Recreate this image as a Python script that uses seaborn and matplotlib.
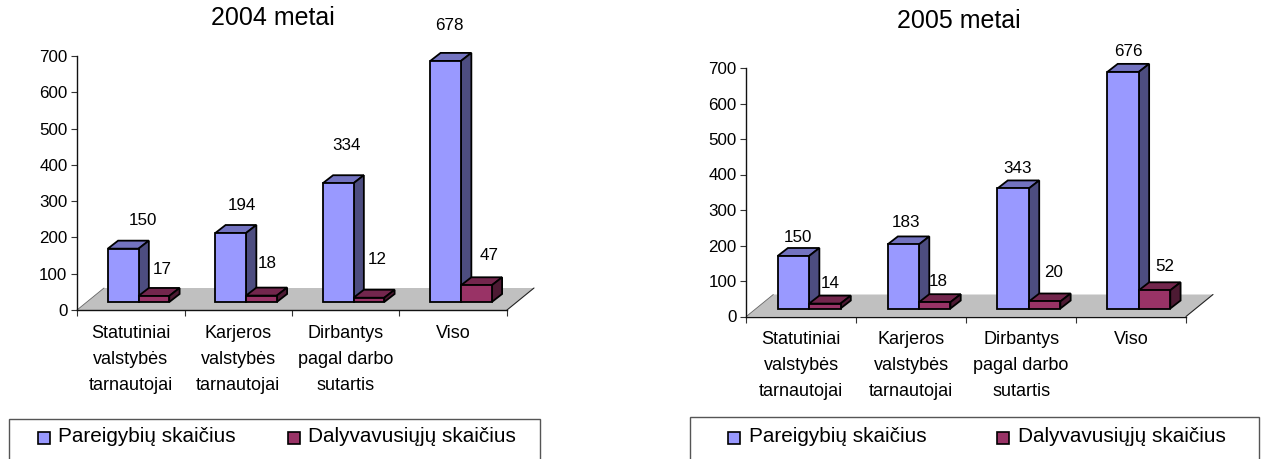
import pandas as pd
import matplotlib
matplotlib.use('Agg')
import matplotlib.pyplot as plt
from matplotlib.patches import Polygon, Rectangle
import seaborn as sn

categories = ['Statutiniai\nvalstybės\ntarnautojai', 'Karjeros\nvalstybės\ntarnautojai',
              'Dirbantys\npagal darbo\nsutartis', 'Viso']
series_names = ['Pareigybių skaičius', 'Dalyvavusiųjų skaičius']
pareigybes_2004 = [150, 194, 334, 678]
dalyvavo_2004 = [17, 18, 12, 47]
pareigybes_2005 = [150, 183, 343, 676]
dalyvavo_2005 = [14, 18, 20, 52]
y_ticks = [0, 100, 200, 300, 400, 500, 600, 700]

W, H = 1266, 459

FRONT = ['#9999FF', '#993366']
TOP = ['#7373C0', '#73264D']
SIDE = ['#4D4D80', '#4D1A33']
PT = 0.72  # px -> pt at dpi 100
EDGE = 1.3

sn.set_style('white')
plt.rcParams['font.family'] = ['Liberation Sans', 'DejaVu Sans']

fig = plt.figure(figsize=(W / 100, H / 100), dpi=100)


def draw_chart(title, values, box, title_xy, labels_xy, legend_box, legend_xy, bar_scale):
    x0, x1, y0, y1 = box
    ax = fig.add_axes([x0 / W, 1 - y0 / H, (x1 - x0) / W, (y0 - y1) / H])

    df = pd.DataFrame({
        'kategorija': categories * 2,
        'serija': [series_names[0]] * 4 + [series_names[1]] * 4,
        'reiksme': values[0] + values[1],
    })
    sn.barplot(data=df, x='kategorija', y='reiksme', hue='serija', hue_order=series_names,
               palette=FRONT, saturation=1, width=0.572, gap=0, edgecolor='black',
               linewidth=EDGE, legend=False, ax=ax)
    ax.set_ylim(0, 700)
    ax.set_xlim(-0.5, 3.5)

    # pixels -> data units for the fake 3D
    px_x = 4 / (x1 - x0)
    px_y = 700 / (y0 - y1)
    base_x, base_y = 7.8 * px_x, 8 * px_y
    depth_x, depth_y = 10.3 * px_x, 8 * px_y

    bars = list(ax.patches)
    for i, bar in enumerate(bars):
        s = 0 if i < 4 else 1
        bar.set_x(bar.get_x() + base_x)
        bar.set_y(base_y)
        bar.set_height(bar.get_height() * bar_scale)
        bar.set_zorder(3 + 2 * s)
        left, right = bar.get_x(), bar.get_x() + bar.get_width()
        top = bar.get_y() + bar.get_height()
        ax.add_patch(Polygon([(left, top), (right, top), (right + depth_x, top + depth_y),
                              (left + depth_x, top + depth_y)], closed=True, facecolor=TOP[s],
                             edgecolor='black', linewidth=EDGE, zorder=2 + 2 * s, clip_on=False))
        ax.add_patch(Polygon([(right, base_y), (right, top), (right + depth_x, top + depth_y),
                              (right + depth_x, base_y + depth_y)], closed=True, facecolor=SIDE[s],
                             edgecolor='black', linewidth=EDGE, zorder=2 + 2 * s, clip_on=False))

    # floor
    fx, fy = 27 * px_x, 22 * px_y
    ax.add_patch(Polygon([(-0.5, 0), (3.5, 0), (3.5 + fx, fy), (-0.5 + fx, fy)], closed=True,
                         facecolor='#C0C0C0', edgecolor='none', zorder=1, clip_on=False))
    ax.plot([3.5, 3.5 + fx], [0, fy], color='#222222', lw=0.8, zorder=1.5, clip_on=False)
    ax.plot([-0.5, -0.5 + fx], [0, fy], color='#666666', lw=0.6, zorder=1.5, clip_on=False)

    sn.despine(ax=ax)
    for side in ['left', 'bottom']:
        ax.spines[side].set_linewidth(1.0)
        ax.spines[side].set_color('#111111')
        ax.spines[side].set_zorder(2)

    ax.set_xlabel('')
    ax.set_ylabel('')
    ax.set_yticks(y_ticks)
    ax.tick_params(axis='y', left=True, length=4.4, width=0.8, color='#333333', pad=2.5,
                   labelsize=17 * PT, labelcolor='black')
    ax.set_xticks([-0.5, 0.5, 1.5, 2.5, 3.5], labels=[''] * 5)
    ax.tick_params(axis='x', which='major', bottom=True, length=4.6, width=0.8, color='#333333')
    ax.set_xticks([0, 1, 2, 3], labels=categories, minor=True)
    ax.tick_params(axis='x', which='minor', bottom=False, length=0, pad=10.5, labelsize=18 * PT,
                   labelcolor='black')
    for lab in ax.get_xticklabels(minor=True):
        lab.set_linespacing(1.7)

    fig.text(title_xy[0] / W, 1 - title_xy[1] / H, title, fontsize=25 * PT,
             ha='center', va='center', color='black')

    flat = values[0] + values[1]
    for v, (lx, ly) in zip(flat, labels_xy):
        fig.text(lx / W, 1 - ly / H, str(v), fontsize=17 * PT, ha='center', va='center', color='black')

    # legend box runs off the bottom of the picture, like in the source
    lx0, lx1, ly0 = legend_box
    fig.add_artist(Rectangle((lx0 / W, -0.05), (lx1 - lx0) / W, 1 - ly0 / H + 0.05, fill=False,
                             edgecolor='#555555', linewidth=1.0, transform=fig.transFigure))
    for s, (mx, tx) in enumerate(legend_xy):
        fig.add_artist(Rectangle((mx / W, 1 - 443.5 / H), 12 / W, 12 / H, facecolor=FRONT[s],
                                 edgecolor='black', linewidth=1.2, transform=fig.transFigure))
        fig.text(tx / W, 1 - 437 / H, series_names[s], fontsize=20.8 * PT,
                 ha='left', va='center', color='black')
    return ax


draw_chart('2004 metai', [pareigybes_2004, dalyvavo_2004],
           box=(77, 507, 310, 56), title_xy=(273, 18),
           labels_xy=[(142.5, 221), (241.5, 205), (347, 146), (449, 26),
                      (162.5, 270), (267, 264), (377.5, 260), (489, 255)],
           legend_box=(8.5, 540, 419),
           legend_xy=[(38, 58), (288, 308)], bar_scale=0.98)

draw_chart('2005 metai', [pareigybes_2005, dalyvavo_2005],
           box=(746.3, 1186, 316.5, 68), title_xy=(959, 20.5),
           labels_xy=[(797.5, 237), (906, 222.7), (1018, 168.7), (1128, 51.7),
                      (830, 283), (938.4, 282), (1054, 272.7), (1165, 266.7)],
           legend_box=(690, 1259, 417),
           legend_xy=[(728, 749), (997, 1018)], bar_scale=0.986)

plt.savefig('out.png', dpi=100)
